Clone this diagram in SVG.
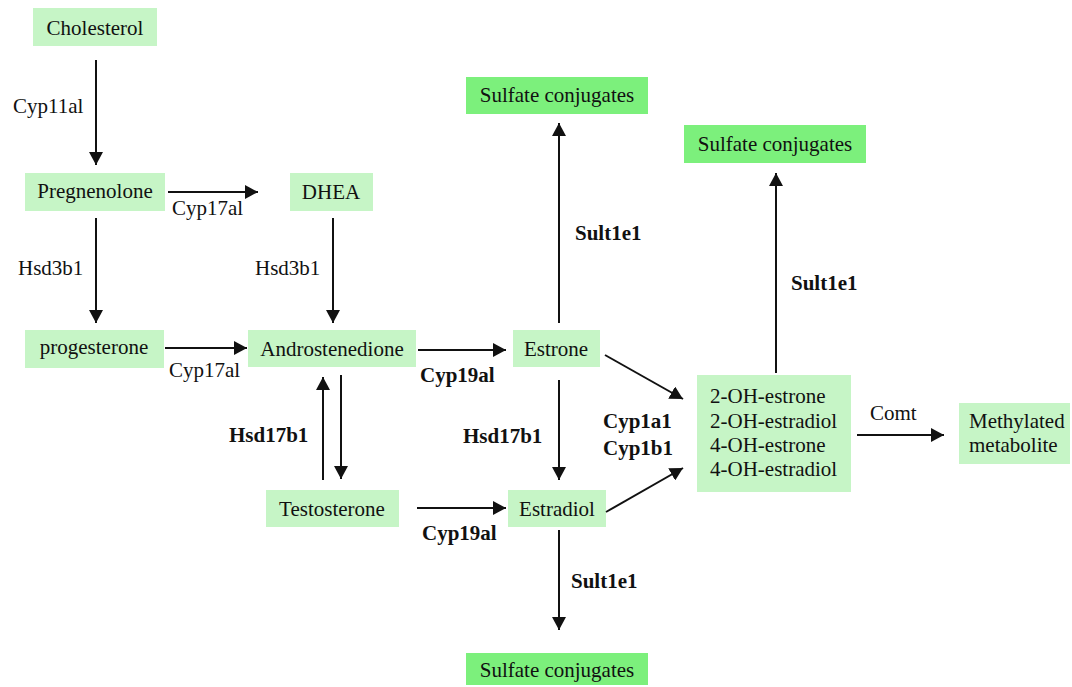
<svg xmlns="http://www.w3.org/2000/svg" width="1072" height="687" viewBox="0 0 1072 687">
<style>
.n{fill:#c6f5c6}
.s{fill:#7cf07c}
text{font-family:"Liberation Serif","Times New Roman",serif;font-size:21px;fill:#111}
.c{text-anchor:middle}
.b{font-weight:bold}
.e line{stroke:#111;stroke-width:2;marker-end:url(#ah)}
</style>
<defs>
<marker id="ah" markerUnits="userSpaceOnUse" markerWidth="14" markerHeight="14" refX="13" refY="7" orient="auto" viewBox="0 0 14 14">
<path d="M0,0 L13,7 L0,14 z" fill="#111"/>
</marker>
</defs>
<rect width="1072" height="687" fill="#fff"/>
<g id="cholesterol"><rect class="n" x="33" y="8" width="124" height="38"/><text class="c" x="95" y="35">Cholesterol</text></g>
<g id="pregnenolone"><rect class="n" x="25" y="173" width="140" height="38"/><text class="c" x="95" y="198">Pregnenolone</text></g>
<g id="dhea"><rect class="n" x="290" y="173" width="83" height="38"/><text class="c" x="331" y="199">DHEA</text></g>
<g id="progesterone"><rect class="n" x="25" y="330" width="139" height="38"/><text class="c" x="94" y="354">progesterone</text></g>
<g id="androstenedione"><rect class="n" x="248" y="330" width="168" height="37"/><text class="c" x="332" y="356">Androstenedione</text></g>
<g id="testosterone"><rect class="n" x="266" y="490" width="133" height="37"/><text class="c" x="332" y="516">Testosterone</text></g>
<g id="estrone"><rect class="n" x="513" y="330" width="87" height="37"/><text class="c" x="556" y="356">Estrone</text></g>
<g id="estradiol"><rect class="n" x="508" y="490" width="98" height="37"/><text class="c" x="557" y="516">Estradiol</text></g>
<g id="sulfate1"><rect class="s" x="466" y="77" width="182" height="37"/><text class="c" x="557" y="102">Sulfate conjugates</text></g>
<g id="sulfate2"><rect class="s" x="684" y="125" width="182" height="38"/><text class="c" x="775" y="151">Sulfate conjugates</text></g>
<g id="sulfate3"><rect class="s" x="466" y="653" width="182" height="32"/><text class="c" x="557" y="677">Sulfate conjugates</text></g>
<g id="hydroxy"><rect class="n" x="697" y="375" width="154" height="117"/>
<text x="710" y="403">2-OH-estrone</text><text x="710" y="428">2-OH-estradiol</text><text x="710" y="452">4-OH-estrone</text><text x="710" y="476">4-OH-estradiol</text></g>
<g id="methylated"><rect class="n" x="959" y="403" width="111" height="61"/><text x="969" y="428">Methylated</text><text x="969" y="452">metabolite</text></g>
<g id="connectors" class="e">
<line x1="96" y1="60" x2="96" y2="165"/>
<line x1="168" y1="192" x2="258" y2="192"/>
<line x1="96" y1="218" x2="96" y2="323"/>
<line x1="333" y1="218" x2="333" y2="323"/>
<line x1="165" y1="348" x2="247" y2="348"/>
<line x1="418" y1="350" x2="506" y2="350"/>
<line x1="323" y1="480" x2="323" y2="377"/>
<line x1="341" y1="375" x2="341" y2="479"/>
<line x1="417" y1="508" x2="506" y2="508"/>
<line x1="559" y1="323" x2="559" y2="123"/>
<line x1="559" y1="380" x2="559" y2="480"/>
<line x1="605" y1="355" x2="683" y2="399"/>
<line x1="606" y1="512" x2="683" y2="468"/>
<line x1="776" y1="373" x2="776" y2="173"/>
<line x1="857" y1="435" x2="944" y2="435"/>
<line x1="559" y1="530" x2="559" y2="630"/>
</g>
<g id="labels">
<text x="13" y="113">Cyp11al</text>
<text x="172" y="215">Cyp17al</text>
<text x="18" y="275">Hsd3b1</text>
<text x="255" y="275">Hsd3b1</text>
<text x="169" y="377">Cyp17al</text>
<text class="b" x="420" y="382">Cyp19al</text>
<text class="b" x="229" y="442">Hsd17b1</text>
<text class="b" x="422" y="540">Cyp19al</text>
<text class="b" x="575" y="240">Sult1e1</text>
<text class="b" x="791" y="290">Sult1e1</text>
<text class="b" x="463" y="443">Hsd17b1</text>
<text class="b" x="603" y="428">Cyp1a1</text>
<text class="b" x="603" y="455">Cyp1b1</text>
<text x="870" y="420">Comt</text>
<text class="b" x="571" y="588">Sult1e1</text>
</g>
</svg>
